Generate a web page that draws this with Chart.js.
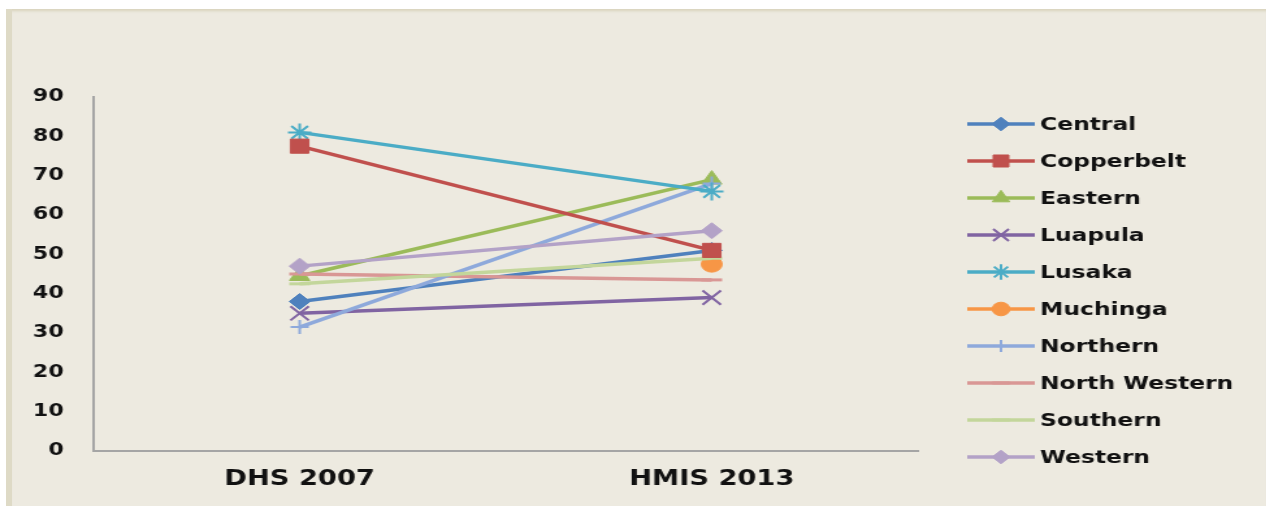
<!DOCTYPE html>
<html>
<head>
<meta charset="utf-8">
<title>DHS 2007 / HMIS 2013 by province</title>
<script src="https://cdn.jsdelivr.net/npm/chart.js@4.4.1/dist/chart.umd.min.js"></script>
<style>
    html, body { margin: 0; padding: 0; background: #fff; width: 1266px; height: 506px; overflow: hidden; }
    .panel {
        position: absolute; left: 6px; top: 9px; right: 0; bottom: 0;
        background: #EDEAE0;
        border-left: 6px solid #DEDAC6;
        box-shadow: inset 0 4px 3px -2px #D8D3BC;
    }
    #province-chart { position: absolute; left: 0; top: 0; transform: scaleX(1.3); transform-origin: 0 0; }
</style>
</head>
<body>
<div class="panel"></div>
<canvas id="province-chart" width="974" height="506"></canvas>
<script>
// Periods on the x axis
var periods = ['DHS 2007', 'HMIS 2013'];

// Values per province (null = not reported)
var central = [38, 51];
var copperbelt = [77.5, 51];
var eastern = [44.5, 69];
var luapula = [35, 39];
var lusaka = [81, 66];
var muchinga = [null, 47.5];
var northern = [31.5, 68];
var northWestern = [45, 43.5];
var southern = [42.5, 49];
var western = [47, 56];

// Y axis range
var yMax = 90;
var yStep = 10;

(function() {
    'use strict';

    var FONT = '"DejaVu Sans", Verdana, sans-serif';

    /**
     * Build one line dataset (lower order is painted on top)
     */
    function series(label, data, color, style, radius, border, order) {
        return {
            label: label,
            data: data,
            order: order,
            borderColor: color,
            backgroundColor: color,
            borderWidth: 3.5,
            tension: 0,
            spanGaps: false,
            pointStyle: style,
            pointRadius: radius,
            pointHoverRadius: radius,
            pointBackgroundColor: color,
            pointBorderColor: color,
            pointBorderWidth: border
        };
    }

    /**
     * Legend on the right: short line with the marker in its middle
     */
    var sideLegend = {
        id: 'sideLegend',
        afterDraw: function(chart) {
            var ctx = chart.ctx;
            var x0 = chart.chartArea.right + 38;
            var lineLen = 52;
            var y0 = 124;
            var step = 37;

            ctx.save();
            chart.data.datasets.forEach(function(ds, i) {
                var y = y0 + i * step;

                ctx.strokeStyle = ds.borderColor;
                ctx.lineWidth = 3.5;
                ctx.beginPath();
                ctx.moveTo(x0, y);
                ctx.lineTo(x0 + lineLen, y);
                ctx.stroke();

                ctx.fillStyle = ds.pointBackgroundColor;
                ctx.lineWidth = ds.pointBorderWidth;
                Chart.helpers.drawPoint(ctx, {
                    pointStyle: ds.pointStyle,
                    radius: ds.pointRadius * 0.85,
                    rotation: 0,
                    borderWidth: ds.pointBorderWidth
                }, x0 + lineLen / 2, y);

                ctx.fillStyle = '#111';
                ctx.font = 'bold 18px ' + FONT;
                ctx.textAlign = 'left';
                ctx.textBaseline = 'middle';
                ctx.fillText(ds.label, x0 + lineLen + 4, y + 1);
            });
            ctx.restore();
        }
    };

    function initChart() {
        var canvas = document.getElementById('province-chart');

        new Chart(canvas, {
            type: 'line',
            data: {
                labels: periods,
                datasets: [
                    series('Central', central, '#4F81BD', 'rectRot', 8, 1, 5),
                    series('Copperbelt', copperbelt, '#C0504D', 'rect', 10, 1, 1),
                    series('Eastern', eastern, '#9BBB59', 'triangle', 9, 1, 4),
                    series('Luapula', luapula, '#8064A2', 'crossRot', 10, 2, 6),
                    series('Lusaka', lusaka, '#4BACC6', 'star', 9, 2, 2),
                    series('Muchinga', muchinga, '#F79646', 'circle', 8, 1, 3),
                    series('Northern', northern, '#8EA9DB', 'cross', 7, 2, 3),
                    series('North Western', northWestern, '#D99795', 'line', 8, 3, 3),
                    series('Southern', southern, '#C3D69B', 'line', 8, 3, 2),
                    series('Western', western, '#B3A2C7', 'rectRot', 8, 1, 0)
                ]
            },
            options: {
                responsive: false,
                animation: false,
                devicePixelRatio: 1,
                layout: {
                    padding: { left: 0, right: 268, top: 97, bottom: 0 }
                },
                plugins: {
                    legend: { display: false },
                    tooltip: { enabled: false }
                },
                scales: {
                    x: {
                        offset: true,
                        grid: { display: false, drawTicks: false },
                        border: { color: '#A5A5A5', width: 2 },
                        ticks: {
                            color: '#111',
                            padding: 16,
                            font: { family: FONT, size: 21, weight: 'bold' }
                        },
                        afterFit: function(scale) { scale.height = 55; }
                    },
                    y: {
                        min: 0,
                        max: yMax,
                        grid: { display: false, drawTicks: false },
                        border: { color: '#A5A5A5', width: 2 },
                        ticks: {
                            stepSize: yStep,
                            color: '#111',
                            padding: 23,
                            font: { family: FONT, size: 17, weight: 'bold' }
                        },
                        afterFit: function(scale) { scale.width = 72; }
                    }
                }
            },
            plugins: [sideLegend]
        });
    }

    initChart();

})();
</script>
</body>
</html>
